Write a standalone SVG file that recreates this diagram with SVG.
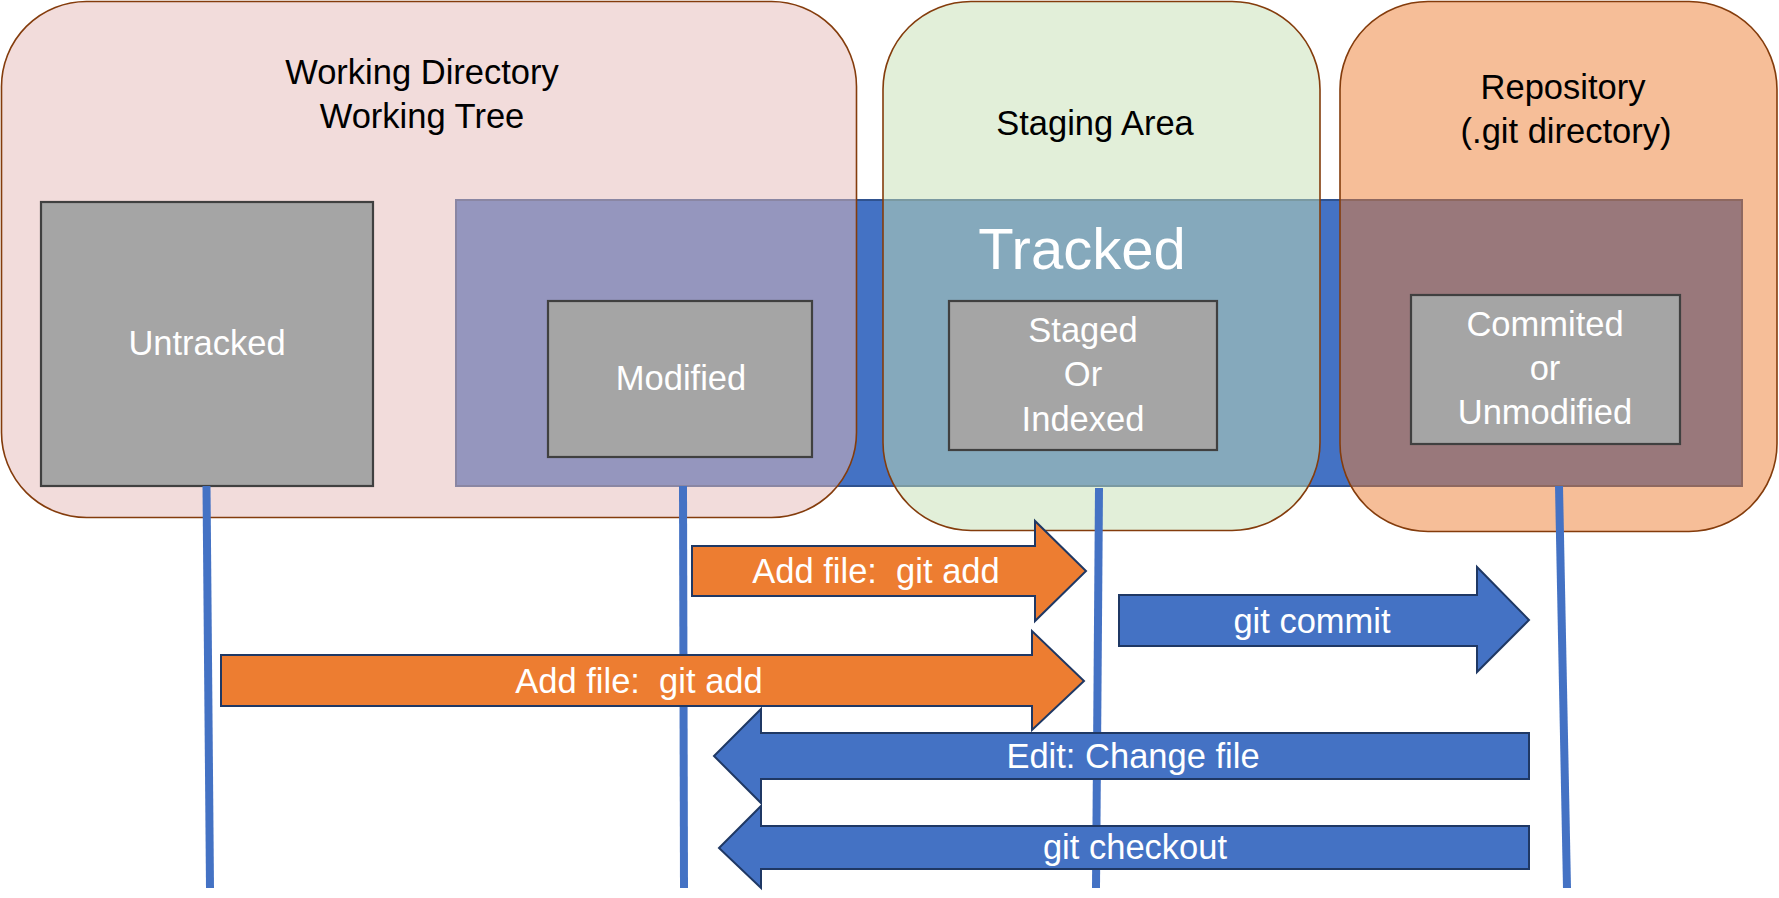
<svg xmlns="http://www.w3.org/2000/svg" width="1779" height="898" viewBox="0 0 1779 898">
<style>
text{font-family:"Liberation Sans",Arial,sans-serif;text-anchor:middle}
.hdr{font-size:34.5px;fill:#000}
.lbl{font-size:34.5px;fill:#fff}
.area{stroke:#843C0C;stroke-width:1.6;fill-opacity:0.5}
.box{fill:#A5A5A5;stroke:#404040;stroke-width:2.2}
.vline{stroke:#4472C4;stroke-width:8;fill:none}
.arr{stroke:#1F3864;stroke-width:2}
.orange{fill:#ED7D31}
.blue{fill:#4472C4}
</style>
<rect width="1779" height="898" fill="#fff"/>
<g id="tracked-region">
<rect x="456" y="200" width="1286" height="286" fill="#4472C4" stroke="#2F528F" stroke-width="2"/>
</g>
<g id="working-directory">
<rect class="area" x="1.5" y="1.5" width="855" height="516" rx="85" ry="85" fill="#E6B9B8"/>
<text class="hdr" x="422" y="84">Working Directory</text>
<text class="hdr" x="422" y="128">Working Tree</text>
</g>
<g id="staging-area">
<rect class="area" x="883" y="1.5" width="437" height="529" rx="88" ry="88" fill="#C5E0B4"/>
<text class="hdr" x="1095" y="135">Staging Area</text>
</g>
<g id="repository">
<rect class="area" x="1340" y="1.5" width="437" height="530" rx="88" ry="88" fill="#ED7D31"/>
<text class="hdr" x="1563" y="99">Repository</text>
<text class="hdr" x="1566" y="143">(.git directory)</text>
</g>
<g id="tracked-label">
<text x="1082" y="269" style="font-size:58px;fill:#fff">Tracked</text>
</g>
<g id="untracked">
<rect class="box" x="41" y="202" width="332" height="284"/>
<text class="lbl" x="207" y="355">Untracked</text>
</g>
<g id="modified">
<rect class="box" x="548" y="301" width="264" height="156"/>
<text class="lbl" x="681" y="390">Modified</text>
</g>
<g id="staged">
<rect class="box" x="949" y="301" width="268" height="149"/>
<text class="lbl" x="1083" y="342">Staged</text>
<text class="lbl" x="1083" y="386">Or</text>
<text class="lbl" x="1083" y="431">Indexed</text>
</g>
<g id="committed">
<rect class="box" x="1411" y="295" width="269" height="149"/>
<text class="lbl" x="1545" y="336">Commited</text>
<text class="lbl" x="1545" y="380">or</text>
<text class="lbl" x="1545" y="424">Unmodified</text>
</g>
<g id="connectors">
<line class="vline" x1="206.5" y1="486" x2="210" y2="888"/>
<line class="vline" x1="683" y1="486" x2="684" y2="888"/>
<line class="vline" x1="1099" y1="488" x2="1096" y2="888"/>
<line class="vline" x1="1559" y1="486" x2="1567" y2="888"/>
<path class="arr orange" d="M692,546 H1035 V521 L1086,571 L1035,621 V596 H692 Z"/>
<path class="arr blue" d="M1119,595 H1477 V567 L1529,620 L1477,672 V646 H1119 Z"/>
<path class="arr orange" d="M221,655 H1032 V631 L1084,681 L1032,730 V706 H221 Z"/>
<path class="arr blue" d="M1529,733 H761 V709 L714,756 L761,803 V779 H1529 Z"/>
<path class="arr blue" d="M1529,826 H761 V806 L719,848 L761,888 V869 H1529 Z"/>
<text class="lbl" x="876" y="583" xml:space="preserve">Add file:  git add</text>
<text class="lbl" x="1312" y="633">git commit</text>
<text class="lbl" x="639" y="693" xml:space="preserve">Add file:  git add</text>
<text class="lbl" x="1133" y="768">Edit: Change file</text>
<text class="lbl" x="1135" y="859">git checkout</text>
</g>
</svg>
